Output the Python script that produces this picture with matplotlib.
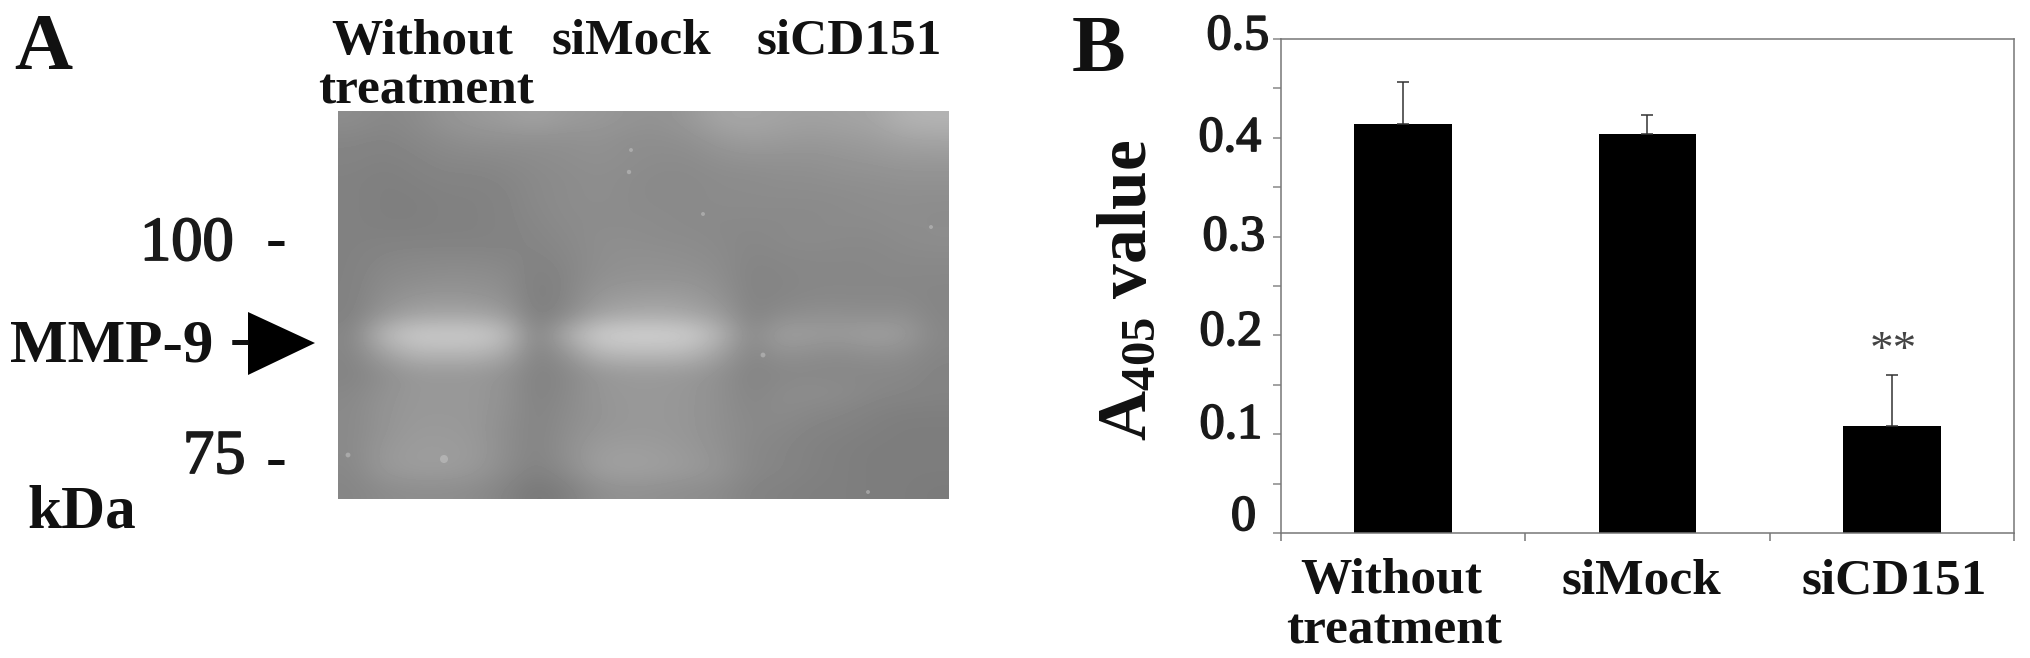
import numpy as np
import matplotlib
matplotlib.use('Agg')
import matplotlib.pyplot as plt
import matplotlib.patheffects as pe
from matplotlib.patches import Polygon

plt.rcParams['font.family'] = ['Liberation Serif', 'DejaVu Serif']
plt.rcParams['mathtext.default'] = 'regular'

W, H = 2031, 658

# panel B values
categories = ['Without\ntreatment', 'siMock', 'siCD151']
a405_mean = [0.414, 0.404, 0.108]
a405_err = [0.042, 0.019, 0.052]
y_ticks = [0, 0.1, 0.2, 0.3, 0.4, 0.5]
y_labels = ['0', '0.1', '0.2', '0.3', '0.4', '0.5']

# panel A gel, grey levels read on a coarse grid
gel_grey = np.array([
    [135,130,133,142,146,150,155,148,146,142,140,146,158,160,156,154,156,158,170,172],
    [128,126,130,134,138,138,138,138,140,136,136,138,146,150,148,146,148,150,156,158],
    [126,124,126,130,130,132,134,136,138,136,134,134,138,140,140,140,142,144,146,146],
    [124,122,124,126,126,128,132,134,136,134,132,132,134,134,136,136,138,138,140,140],
    [124,122,122,124,124,126,132,134,136,134,132,132,134,134,134,134,134,136,136,136],
    [124,122,122,124,124,126,130,134,134,134,134,132,132,132,132,132,134,134,136,134],
    [124,124,124,124,124,126,128,132,136,136,134,134,132,130,132,134,132,132,134,136],
    [124,128,130,130,130,128,126,130,136,138,138,136,134,128,130,130,130,130,132,132],
    [124,132,134,136,136,134,122,128,138,140,140,140,136,126,128,130,130,130,130,130],
    [124,136,142,144,142,138,120,128,144,148,150,148,140,126,128,130,130,130,130,128],
    [124,144,156,158,158,150,120,132,156,162,164,160,150,126,134,138,138,136,138,128],
    [128,178,196,196,196,184,124,166,198,202,202,198,174,130,154,150,148,154,150,130],
    [128,154,174,174,174,162,124,142,174,178,178,176,154,128,140,136,134,138,136,128],
    [126,136,146,146,146,140,124,130,144,148,148,146,138,126,130,130,130,130,130,126],
    [130,140,146,146,146,140,124,132,144,146,146,144,138,128,134,136,134,130,128,126],
    [132,142,146,146,146,138,126,134,142,146,146,144,138,130,134,130,128,124,122,122],
    [132,142,148,148,146,136,126,136,144,146,146,144,138,132,130,126,124,122,120,120],
    [132,146,150,150,148,136,126,138,150,152,150,146,140,130,128,124,122,120,120,120],
    [130,146,150,150,146,134,124,134,152,154,152,148,142,130,128,124,122,120,120,120],
    [128,134,136,136,134,126,114,122,136,140,138,136,134,126,124,122,122,120,120,118],
])
speck_x = [444, 348, 629, 631, 703, 763, 931, 868]
speck_y = [459, 455, 172, 150, 214, 355, 227, 492]
speck_size = [34, 12, 10, 8, 8, 12, 8, 8]


def px_axes(left, top, right, bottom):
    return fig.add_axes([left / W, 1 - bottom / H, (right - left) / W, (bottom - top) / H])


fig = plt.figure(figsize=(W / 100, H / 100), dpi=100, facecolor='white')

# overlay in pixel coords for the hand placed labels
over = fig.add_axes([0, 0, 1, 1], zorder=5)
over.set_xlim(0, W)
over.set_ylim(H, 0)
over.axis('off')


def label(x, y, s, size, ha='center', va='baseline', **kw):
    kw.setdefault('weight', 'bold')
    kw.setdefault('color', '#111111')
    over.text(x, y, s, fontsize=size, ha=ha, va=va, **kw)


def digits(x, y, s, size, ha='left'):
    # numbers in the original are softer than the bold captions
    t = over.text(x, y, s, fontsize=size, ha=ha, va='baseline', color='#1a1a1a')
    t.set_path_effects([pe.withStroke(linewidth=1.3, foreground='#1a1a1a')])


# Panel A
gel = px_axes(338, 111, 949, 499)
gel.imshow(gel_grey, cmap='gray', vmin=0, vmax=245, aspect='auto', interpolation='bicubic')
gel.axis('off')
over.scatter(speck_x, speck_y, s=speck_size, color='#c8c8c8', alpha=0.5, linewidths=0)

label(14, 69, 'A', 58, ha='left')
label(422, 54, 'Without', 37)
label(426, 104, 'treatment', 37)
label(631, 54, 'siMock', 37)
label(849, 54, 'siCD151', 37)
digits(140, 260, '100', 45)
label(276, 258, '-', 45)
label(10, 362, 'MMP-9', 44, ha='left')
label(240, 357, '-', 45)
digits(183, 473, '75', 45)
label(276, 477, '-', 45)
label(27, 528, 'kDa', 44, ha='left')
over.add_patch(Polygon([(248, 312), (248, 375), (315, 343)], closed=True, color='black', lw=0))

# Panel B
ax = px_axes(1281, 39, 2014, 533)
pos = np.arange(len(categories))
ax.bar(pos, a405_mean, width=0.4, color='black')
ax.errorbar(pos, a405_mean, yerr=[np.zeros(3), a405_err], fmt='none', ecolor='#333333',
            elinewidth=1.1, capsize=4.5, capthick=1.1)
ax.set_xlim(-0.5, 2.5)
ax.set_ylim(0, 0.5)

# ticks sit between the bars
ax.set_xticks([-0.5, 0.5, 1.5, 2.5])
ax.set_xticklabels([])
ax.tick_params(axis='x', which='major', length=6, width=1.1, color='#777777')

ax.set_yticks(y_ticks)
ax.set_yticklabels([])
ax.set_yticks(np.arange(0.05, 0.5, 0.1), minor=True)
ax.tick_params(axis='y', which='both', length=6, width=1.1, color='#888888')
for side in ax.spines.values():
    side.set_color('#777777')
    side.set_linewidth(1.1)

# category labels are not centred under the bars in the original
first, second = categories[0].split('\n')
label(1391, 593, first, 37)
label(1394, 643, second, 37)
label(1641, 593, categories[1], 37)
label(1894, 593, categories[2], 37)

# y labels drift upward in the original, placed by hand
label_right = [1256, 1262, 1262, 1265, 1261, 1269]
label_base = [530, 438, 345, 250, 151, 49]
for lab, x, y in zip(y_labels, label_right, label_base):
    digits(x, y, lab, 36, ha='right')

label(1128, 290, r'A$_{405}$ value', 50, va='center', rotation=90)
ax.text(2.005, 0.183, '**', fontsize=34, ha='center', va='center', color='#444444')
label(1072, 71, 'B', 58, ha='left')

fig.savefig('out.png', dpi=100)
